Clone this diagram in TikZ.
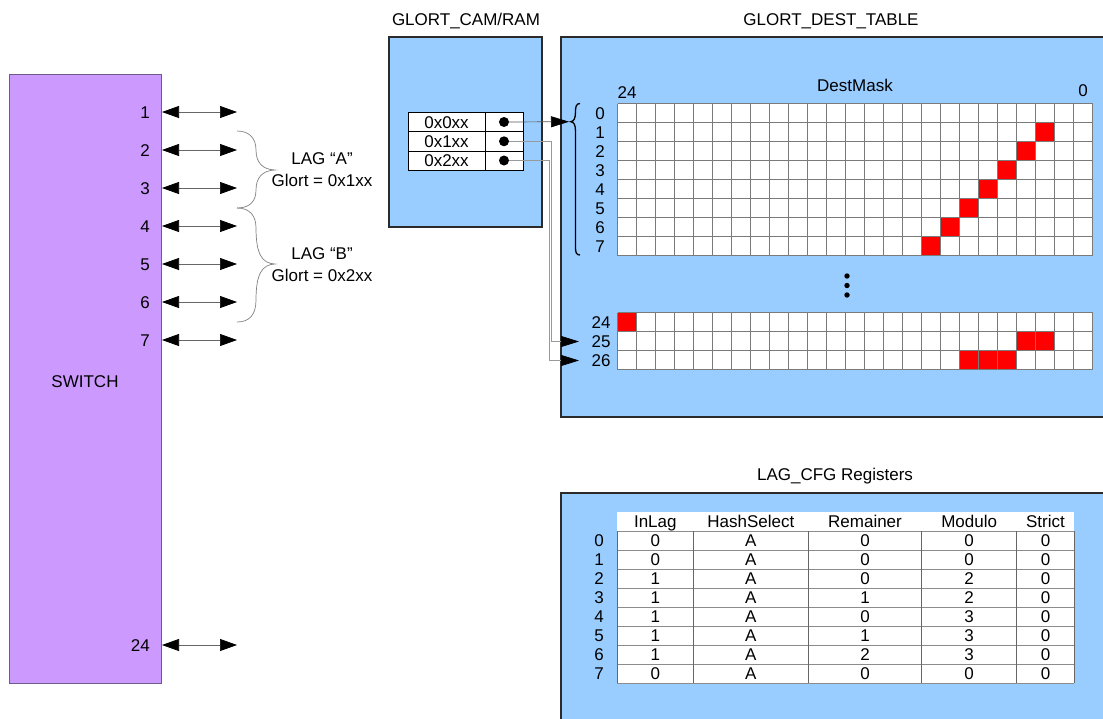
\documentclass[tikz,border=0pt]{standalone}
\usepackage{fontspec}
\setmainfont{Liberation Sans}
\usetikzlibrary{arrows.meta}
\definecolor{swfill}{HTML}{CC99FF}
\definecolor{swline}{HTML}{6E5A8C}
\definecolor{bluefill}{HTML}{99CCFF}
\definecolor{boxline}{HTML}{2B2B2B}
\definecolor{gridline}{HTML}{7A7A7A}
\definecolor{redcell}{HTML}{FF0000}
\begin{document}
\begin{tikzpicture}[x=1pt,y=-1pt,
  txt/.style={inner sep=0pt, text height=12.2pt, text depth=0pt, font=\fontsize{17}{20}\selectfont},
  panel/.style={draw=boxline, line width=1.3pt, fill=bluefill},
  biarrow/.style={draw=black!60, line width=0.7pt,
     {Triangle[length=17pt,width=12pt,color=black]}-{Triangle[length=17pt,width=12pt,color=black]}},
  bracepath/.style={draw=black!50, line width=0.7pt},
  dotnode/.style={circle, fill=black, inner sep=0pt, minimum size=10pt},
  conn/.style={line width=0.7pt, -{Triangle[length=18pt,width=11pt,color=black]}},
  gline/.style={draw=gridline, line width=0.8pt},
  redsq/.style={fill=redcell}
]
\useasboundingbox (0,0) rectangle (1103,718);

% ---------------- SWITCH ----------------
\path[draw=swline, fill=swfill, line width=0.8pt] (9.5,74) rectangle (161.5,683);
\node[txt] (switch) at (85,381) {SWITCH};
\foreach \i/\y in {1/112,2/150,3/188,4/226,5/264,6/302,7/340,24/645} {
  \node[txt, anchor=east] (pl\i) at (150,\y) {\i};
  \coordinate (pa\i) at (162,\y);
  \coordinate (pb\i) at (237,\y);
  \draw[biarrow] (pa\i) -- (pb\i);
}

% braces for LAGs
\coordinate (bAtop) at (237,131);
\coordinate (bAtip) at (275,170);
\coordinate (bAbot) at (237,208);
\draw[bracepath] (bAtop) .. controls (250,131) and (256,139) .. (256,150)
  .. controls (256,162) and (262,169.5) .. (bAtip)
  .. controls (262,170.5) and (256,178) .. (256,190)
  .. controls (256,201) and (250,208) .. (bAbot);
\coordinate (bBtop) at (237,208);
\coordinate (bBtip) at (275,264);
\coordinate (bBbot) at (237,322);
\draw[bracepath] (bBtop) .. controls (250,208) and (256,216) .. (256,228)
  .. controls (256,254) and (262,263.5) .. (bBtip)
  .. controls (262,264.5) and (256,274) .. (256,300)
  .. controls (256,314) and (250,322) .. (bBbot);
\node[txt] (lagA) at (322,158) {LAG “A”};
\node[txt] (glA) at (322,180) {Glort = 0x1xx};
\node[txt] (lagB) at (322,253) {LAG “B”};
\node[txt] (glB) at (322,275) {Glort = 0x2xx};

% ---------------- GLORT_CAM/RAM ----------------
\node[txt] (camtitle) at (466,19) {GLORT\_CAM/RAM};
\path[panel] (389,37) rectangle (542,227);
\path[draw=black, fill=white, line width=0.9pt] (408,112.3) rectangle (523.3,170);
\draw[black, line width=0.9pt] (408,131.7) -- (523.3,131.7) (408,151) -- (523.3,151) (485,112.3) -- (485,170);
\node[txt] (c0) at (446.5,122) {0x0xx};
\node[txt] (c1) at (446.5,141.3) {0x1xx};
\node[txt] (c2) at (446.5,160.5) {0x2xx};
\node[dotnode] (d0) at (504,122) {};
\node[dotnode] (d1) at (504,141.3) {};
\node[dotnode] (d2) at (504,160.5) {};

% ---------------- GLORT_DEST_TABLE ----------------
\node[txt] (desttitle) at (831,19) {GLORT\_DEST\_TABLE};
\path[panel] (561,37) rectangle (1115,417);
\node[txt] (destmask) at (855,85) {DestMask};
\node[txt] (h24) at (627,92) {24};
\node[txt] (h0) at (1083,90) {0};

% top grid rows 0..7
\fill[white] (617.7,103.7) rectangle (1092.7,255.7);
\foreach \r in {1,...,7} {
  \pgfmathsetmacro{\cc}{23-\r}
  \fill[redsq] (617.7+19*\cc,103.7+19*\r) rectangle +(19,19);
}
\foreach \r in {0,...,8} \draw[gline] (617.7,103.7+19*\r) -- (1092.7,103.7+19*\r);
\foreach \c in {0,...,25} \draw[gline] (617.7+19*\c,103.7) -- (617.7+19*\c,255.7);
\foreach \r in {0,...,7} \node[txt] (r\r) at (600,113.2+19*\r) {\r};

% brace on the left of the rows
\coordinate (dbtip) at (570.7,121.7);
\draw[black, line width=1.3pt] (580,103.5) .. controls (576,103.5) and (575.5,107) .. (575.5,112)
  .. controls (575.5,118) and (574,121.5) .. (dbtip)
  .. controls (574,122) and (575.5,125) .. (575.5,131)
  -- (575.5,247) .. controls (575.5,252) and (576,255) .. (580,255);

% vertical ellipsis
\foreach \k/\yy in {1/276,2/285.5,3/295} \fill[black] (847,\yy) circle (2.7);

% bottom grid rows 24..26
\fill[white] (617.7,312.7) rectangle (1092.7,369.7);
\fill[redsq] (617.7,312.7) rectangle +(19,19);
\foreach \cc in {21,22} \fill[redsq] (617.7+19*\cc,331.7) rectangle +(19,19);
\foreach \cc in {18,19,20} \fill[redsq] (617.7+19*\cc,350.7) rectangle +(19,19);
\foreach \r in {0,...,3} \draw[gline] (617.7,312.7+19*\r) -- (1092.7,312.7+19*\r);
\foreach \c in {0,...,25} \draw[gline] (617.7+19*\c,312.7) -- (617.7+19*\c,369.7);
\node[txt] (r24) at (601,322.2) {24};
\node[txt] (r25) at (601,341.2) {25};
\node[txt] (r26) at (601,360.2) {26};

% connectors from CAM to DEST table
\coordinate (t0) at (569,121.7);
\coordinate (t25) at (579,341.5);
\coordinate (t26) at (579,360.5);
\draw[conn, draw=black!65] (d0) -- (t0);
\draw[conn, draw=black!40] (d1) -| (551.7,341.5) -- (t25);
\draw[conn, draw=black!40] (d2) -| (549.7,360.5) -- (t26);

% ---------------- LAG_CFG Registers ----------------
\node[txt] (lagtitle) at (835,474) {LAG\_CFG Registers};
\path[panel] (561,493) rectangle (1115,730);
\fill[white] (617.3,512.3) rectangle (1074.3,683.3);
\foreach \r in {0,...,8} \draw[draw=black!45, line width=0.8pt] (617.3,531+19.04*\r) -- (1074.3,531+19.04*\r);
\foreach \xx in {617.3,693.3,808.3,921.7,1016.7,1074.3} \draw[draw=black!60, line width=0.9pt] (\xx,531) -- (\xx,683.3);
\node[txt] (hInLag) at (655.3,521.6) {InLag};
\node[txt] (hHash) at (750.8,521.6) {HashSelect};
\node[txt] (hRem) at (865,521.6) {Remainer};
\node[txt] (hMod) at (969.2,521.6) {Modulo};
\node[txt] (hStr) at (1045.5,521.6) {Strict};
\foreach \r/\a/\b/\c/\d/\e in {0/0/A/0/0/0,1/0/A/0/0/0,2/1/A/0/2/0,3/1/A/1/2/0,4/1/A/0/3/0,5/1/A/1/3/0,6/1/A/2/3/0,7/0/A/0/0/0} {
  \node[txt] (lr\r) at (599,540.5+19.04*\r) {\r};
  \node[txt] (la\r) at (655.3,540.5+19.04*\r) {\a};
  \node[txt] (lb\r) at (750.8,540.5+19.04*\r) {\b};
  \node[txt] (lc\r) at (865,540.5+19.04*\r) {\c};
  \node[txt] (ld\r) at (969.2,540.5+19.04*\r) {\d};
  \node[txt] (le\r) at (1045.5,540.5+19.04*\r) {\e};
}
\end{tikzpicture}
\end{document}
